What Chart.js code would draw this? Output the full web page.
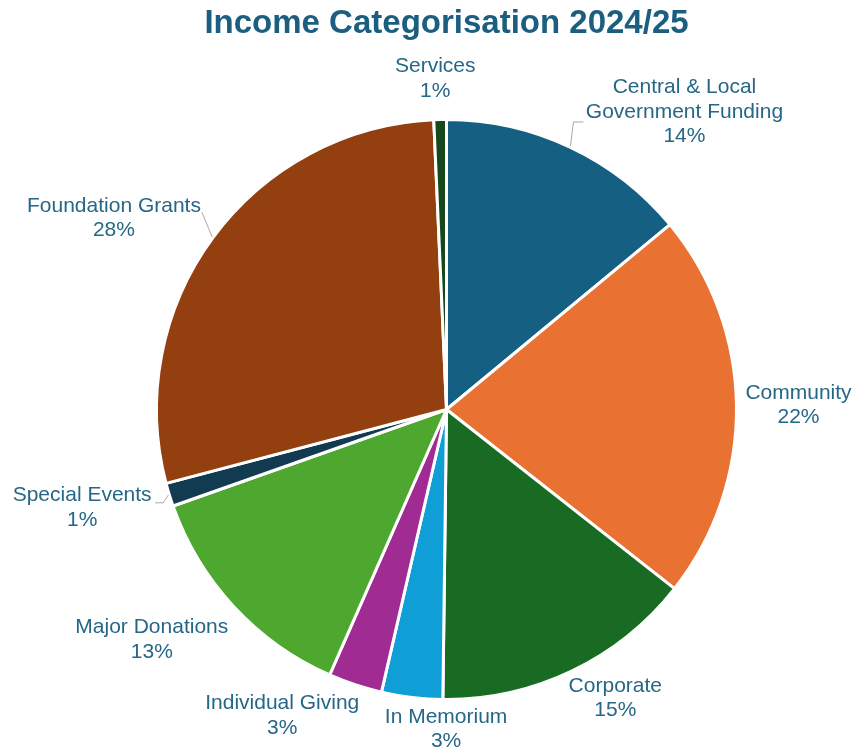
<!DOCTYPE html>
<html>
<head>
<meta charset="utf-8">
<script src="https://cdn.jsdelivr.net/npm/chart.js@4.4.1/dist/chart.umd.min.js"></script>
<style>
  html, body { margin: 0; padding: 0; background: #ffffff; }
  #wrap { width: 853px; height: 749px; }
</style>
</head>
<body>
<div id="wrap"><canvas id="incomeChart" width="853" height="749"></canvas></div>
<script>
// Income categories (multi-line entries are wrapped as drawn)
const categories = [
  ['Central & Local', 'Government Funding'],
  'Community',
  'Corporate',
  'In Memorium',
  'Individual Giving',
  'Major Donations',
  'Special Events',
  'Foundation Grants',
  'Services'
];

// Share of total income, percent
const shares = [14.0, 21.6, 14.6, 3.4, 3.0, 13.0, 1.3, 28.4, 0.7];

const sliceColors = [
  '#156082', '#e97132', '#196b24', '#0f9ed5', '#a02b93',
  '#4ea72e', '#123a50', '#933f10', '#16481b'
];

// Label placement: offset from the point just outside each slice's mid-angle
const LABEL_GAP = 41;
const labelNudge = [
  [97, 2], [21, 0], [26, -10], [39, -9], [-60, -8],
  [-52, 5], [-48, 1], [-66, 5], [-4, 0]
];
// Leader line points, relative to the label centre (null = no leader)
const leaderPoints = [
  [[-111, 10], [-101, 10]], null, null, null, null,
  null, [[81, -5], [73, -5]], [[88, -6]], null
];

const FONT = "'Liberation Sans', Arial, Helvetica, sans-serif";
const LABEL_COLOR = '#266787';

const outsideLabels = {
  id: 'outsideLabels',
  afterDatasetsDraw(chart) {
    const ctx = chart.ctx;
    const meta = chart.getDatasetMeta(0);
    const values = chart.data.datasets[0].data;
    ctx.save();
    meta.data.forEach((arc, i) => {
      const p = arc.getProps(['x', 'y', 'startAngle', 'endAngle', 'outerRadius'], true);
      const mid = (p.startAngle + p.endAngle) / 2;
      const ux = Math.cos(mid), uy = Math.sin(mid);
      const d = p.outerRadius + LABEL_GAP;
      const lx = p.x + ux * d + labelNudge[i][0];
      const ly = p.y + uy * d + labelNudge[i][1];

      const lead = leaderPoints[i];
      if (lead) {
        ctx.strokeStyle = '#a9a9a9';
        ctx.lineWidth = 1;
        ctx.beginPath();
        ctx.moveTo(p.x + ux * (p.outerRadius + 1), p.y + uy * (p.outerRadius + 1));
        lead.forEach(([px, py]) => ctx.lineTo(lx + px, ly + py));
        ctx.stroke();
      }

      const lines = [].concat(chart.data.labels[i], Math.round(values[i]) + '%');
      const lh = 24.5;
      ctx.font = '21px ' + FONT;
      ctx.fillStyle = LABEL_COLOR;
      ctx.textAlign = 'center';
      ctx.textBaseline = 'middle';
      const top = ly - (lines.length - 1) * lh / 2;
      lines.forEach((t, k) => ctx.fillText(t, lx, top + k * lh));
    });
    ctx.restore();
  }
};

new Chart(document.getElementById('incomeChart'), {
  type: 'pie',
  data: {
    labels: categories,
    datasets: [{
      data: shares,
      backgroundColor: sliceColors,
      borderColor: '#ffffff',
      borderWidth: 3
    }]
  },
  options: {
    responsive: false,
    animation: false,
    devicePixelRatio: 1,
    layout: { padding: { left: 155, right: 115, top: 0, bottom: 48 } },
    plugins: {
      legend: { display: false },
      tooltip: { enabled: false },
      title: {
        display: true,
        text: 'Income Categorisation 2024/25',
        color: '#1b5e80',
        font: { family: FONT, size: 33, weight: 'bold' },
        padding: { top: 4, bottom: 74.4 }
      }
    },
    events: []
  },
  plugins: [outsideLabels]
});
</script>
</body>
</html>
